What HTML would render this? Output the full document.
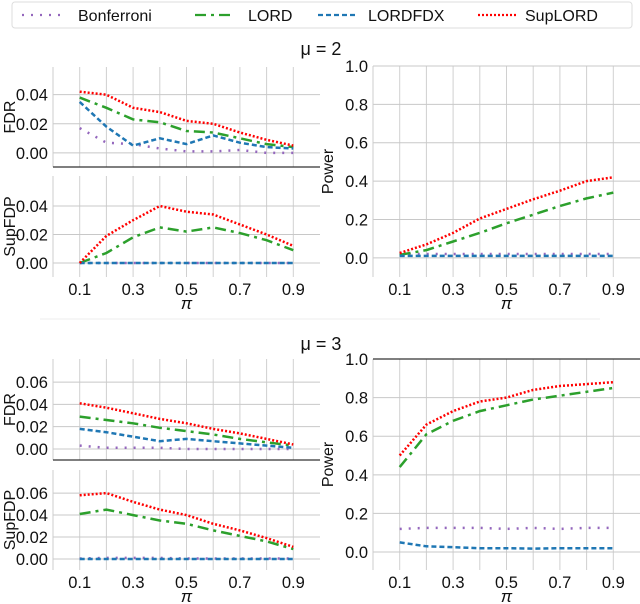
<!DOCTYPE html>
<html><head><meta charset="utf-8"><style>
body{margin:0;background:#fff;font-family:"Liberation Sans","DejaVu Sans",sans-serif;}
svg{display:block}
</style></head><body>
<svg id="c" width="640" height="604" viewBox="0 0 640 604" xmlns="http://www.w3.org/2000/svg"></svg>
<script>
const piVals=[0.1,0.2,0.3,0.4,0.5,0.6,0.7,0.8,0.9];
const xTicks=[0.1,0.3,0.5,0.7,0.9];
const seriesNames=["Bonferroni","LORD","LORDFDX","SupLORD"];
// mu=2
const fdr2Bonf=[.017,.007,.006,.003,.001,.001,.002,.000,.000];
const fdr2Lord=[.038,.031,.023,.021,.015,.014,.010,.006,.004];
const fdr2Fdx=[.035,.018,.005,.010,.006,.012,.007,.004,.003];
const fdr2Sup=[.042,.040,.031,.028,.022,.020,.014,.009,.005];
const sfdp2Bonf=[0,0,0,0,0,0,0,0,0];
const sfdp2Lord=[0,.007,.018,.025,.022,.025,.021,.016,.009];
const sfdp2Fdx=[0,0,0,0,0,0,0,0,0];
const sfdp2Sup=[0,.019,.030,.040,.036,.034,.027,.020,.012];
const pow2Bonf=[.02,.02,.02,.02,.02,.02,.02,.02,.02];
const pow2Lord=[.015,.04,.085,.13,.18,.225,.27,.31,.34];
const pow2Fdx=[.01,.01,.01,.01,.01,.01,.01,.01,.01];
const pow2Sup=[.025,.07,.13,.205,.255,.305,.35,.40,.42];
// mu=3
const fdr3Bonf=[.003,.001,.001,.001,0,0,0,0,0];
const fdr3Lord=[.029,.026,.023,.019,.016,.013,.009,.006,.003];
const fdr3Fdx=[.018,.015,.011,.007,.009,.007,.005,.003,.001];
const fdr3Sup=[.041,.037,.032,.027,.023,.018,.014,.009,.004];
const sfdp3Bonf=[.0005,.001,.001,.001,.0005,.0005,.0005,.0005,.0005];
const sfdp3Lord=[.041,.045,.040,.035,.032,.026,.021,.016,.009];
const sfdp3Fdx=[0,0,0,0,0,0,0,0,0];
const sfdp3Sup=[.058,.060,.052,.045,.040,.032,.026,.019,.011];
const pow3Bonf=[.12,.125,.125,.125,.12,.125,.12,.125,.125];
const pow3Lord=[.44,.61,.68,.73,.76,.79,.81,.83,.85];
const pow3Fdx=[.05,.03,.025,.02,.02,.018,.02,.02,.02];
const pow3Sup=[.50,.66,.73,.78,.80,.84,.86,.87,.88];
const fdrTicks2=[0,0.02,0.04], fdrTicks3=[0,0.02,0.04,0.06], powTicks=[0,0.2,0.4,0.6,0.8,1.0];

const NS="http://www.w3.org/2000/svg", svg=document.getElementById('c');
const styles=[
 {c:"#9467bd",d:"2 7"},
 {c:"#2ca02c",d:"11 5 3 5"},
 {c:"#1f77b4",d:"5 3"},
 {c:"#ff0000",d:"2 2"}];
function el(t,a,p){const e=document.createElementNS(NS,t);for(const k in a)e.setAttribute(k,a[k]);(p||svg).appendChild(e);return e;}
function txt(s,x,y,a,p){const e=el('text',Object.assign({x,y,'font-size':14,fill:'#111'},a),p);e.textContent=s;return e;}

function panel(name,L,R,T,B,x0,x1,y0,y1,yticks,fmt,ylabel,series,showX){
 const g=el('g',{});
 
 
 const X=v=>L+(v-x0)/(x1-x0)*(R-L), Y=v=>B-(v-y0)/(y1-y0)*(B-T);
 piVals.forEach(v=>{el('line',{x1:X(v),x2:X(v),y1:T,y2:B,stroke:'#d0d0d0','stroke-width':1},g);});
 yticks.forEach(v=>{el('line',{x1:L,x2:R,y1:Y(v),y2:Y(v),stroke:'#c8c8c8','stroke-width':1},g);
  const t=txt(fmt(v),L-5,Y(v)+6,{'text-anchor':'end','font-size':16.5},g);
  });
 el('line',{x1:L,x2:L,y1:T,y2:B,stroke:'#ccc'},g);
 const yl=txt(ylabel,0,0,{'text-anchor':'middle','font-size':16,transform:`translate(${ylabel=='Power'?L-40:15},${(T+B)/2}) rotate(-90)`},g);
 
 series.forEach((s,i)=>{const d=s.map((v,j)=>(j?'L':'M')+X(piVals[j]).toFixed(1)+','+Y(v).toFixed(1)).join(' ');
  const p=el('path',{d,fill:'none',stroke:styles[i].c,'stroke-width':2.5,'stroke-dasharray':styles[i].d},g);
  });
 if(showX){xTicks.forEach(v=>{const t=txt(v.toFixed(1),X(v),B+18,{'text-anchor':'middle','font-size':16.5},g);
  });
  const xl=txt('π',(L+R)/2,B+32,{'text-anchor':'middle','font-size':17,'font-style':'italic'},g);
  }
 return g;
}
const f2=v=>v.toFixed(2), f1=v=>v.toFixed(1);
panel('fdr-panel-mu2',53,320,67,167,0,1,-0.0097,0.059,fdrTicks2,f2,'FDR',[fdr2Bonf,fdr2Lord,fdr2Fdx,fdr2Sup],false);
el('line',{x1:53,x2:320,y1:167,y2:167,stroke:'#333','stroke-width':1.2});
panel('supfdp-panel-mu2',53,320,176,277,0,1,-0.0098,0.061,fdrTicks2,f2,'SupFDP',[sfdp2Bonf,sfdp2Lord,sfdp2Fdx,sfdp2Sup],true);
panel('power-panel-mu2',373,640,66,277,0,1,-0.1,1.0,powTicks,f1,'Power',[pow2Bonf,pow2Lord,pow2Fdx,pow2Sup],true);
panel('fdr-panel-mu3',53,320,359,460,0,1,-0.0099,0.0807,fdrTicks3,f2,'FDR',[fdr3Bonf,fdr3Lord,fdr3Fdx,fdr3Sup],false);
el('line',{x1:53,x2:320,y1:460,y2:460,stroke:'#333','stroke-width':1.2});
panel('supfdp-panel-mu3',53,320,470,570,0,1,-0.01,0.081,fdrTicks3,f2,'SupFDP',[sfdp3Bonf,sfdp3Lord,sfdp3Fdx,sfdp3Sup],true);
panel('power-panel-mu3',373,640,359,570,0,1,-0.093,1.0,powTicks,f1,'Power',[pow3Bonf,pow3Lord,pow3Fdx,pow3Sup],true);
el('line',{x1:373,x2:640,y1:359,y2:359,stroke:'#333','stroke-width':1.2});
el('line',{x1:40,x2:600,y1:319,y2:319,stroke:'#eee','stroke-width':1});
const t2=txt('μ = 2',321,55,{'text-anchor':'middle','font-size':18});

const t3=txt('μ = 3',321,350,{'text-anchor':'middle','font-size':18});

const lg=el('g',{});


el('rect',{x:12,y:2,width:620,height:26,rx:3,fill:'#fff',stroke:'#ddd'},lg);
const lx=[22,195,318,478], tx=[78,248,368,525];
seriesNames.forEach((n,i)=>{
 const e=el('g',{},lg);
 
 
 el('line',{x1:lx[i],x2:lx[i]+40,y1:15,y2:15,stroke:styles[i].c,'stroke-width':2.3,'stroke-dasharray':styles[i].d},e);
 txt(n,tx[i],21,{'font-size':16},e);
});
</script>
</body></html>
